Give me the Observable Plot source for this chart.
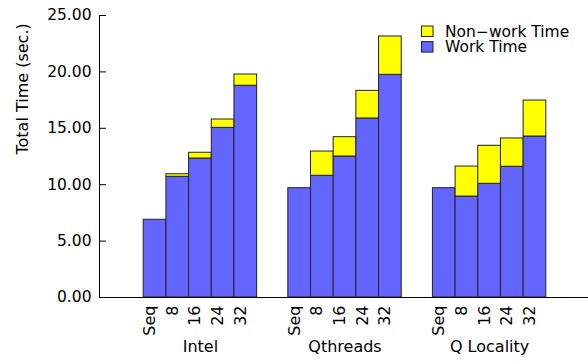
<!DOCTYPE html>
<html><head><meta charset="utf-8">
<script src="https://cdn.jsdelivr.net/npm/d3@7"></script>
<script src="https://cdn.jsdelivr.net/npm/@observablehq/plot@0.6"></script>
<style>
body{margin:0;background:#fff;}
#wrap{width:588px;height:362px;}
</style></head><body><div id="wrap"></div>
<script>
const groups = ["Intel", "Qthreads", "Q Locality"];
const threadLabels = ["Seq", "8", "16", "24", "32"];
const intelWork = [6.89, 10.70, 12.32, 15.04, 18.77];
const intelNonWork = [0, 0.23, 0.51, 0.74, 1.00];
const qthreadsWork = [9.69, 10.79, 12.50, 15.87, 19.74];
const qthreadsNonWork = [0, 2.15, 1.71, 2.45, 3.40];
const qlocalityWork = [9.69, 8.95, 10.08, 11.59, 14.27];
const qlocalityNonWork = [0, 2.66, 3.37, 2.51, 3.19];
const seriesNames = ["Non\u2212work Time", "Work Time"];
const seriesColors = ["#ffff00", "#6464ff"];
const yTicks = [0, 5, 10, 15, 20, 25];
const yLabel = "Total Time (sec.)";

const workByGroup = [intelWork, qthreadsWork, qlocalityWork];
const nonWorkByGroup = [intelNonWork, qthreadsNonWork, qlocalityNonWork];
const groupPitch = 6.375;
const xMin = -1.95, xMax = 2 * groupPitch + 5 + 1.86;
const W = 588, mL = 99, mR = 0;
const tickLen = 7 * (xMax - xMin) / (W - mL - mR);

const rects = [], bars = [], groupRows = [];
groups.forEach((g, gi) => {
  groupRows.push({group: g, center: gi * groupPitch + 2.5});
  threadLabels.forEach((t, ti) => {
    const pos = gi * groupPitch + ti;
    const w = workByGroup[gi][ti], n = nonWorkByGroup[gi][ti];
    bars.push({thread: t, pos});
    rects.push({series: seriesNames[1], pos, y1: 0, y2: w});
    if (n > 0) rects.push({series: seriesNames[0], pos, y1: w, y2: w + n});
  });
});

const chart = Plot.plot({
  width: W, height: 362,
  marginLeft: mL, marginRight: mR, marginTop: 15, marginBottom: 65,
  style: {fontFamily: "DejaVu Sans, sans-serif", fontSize: "16px", background: "white", color: "black"},
  x: {domain: [xMin, xMax], axis: null},
  y: {domain: [0, 25], axis: null},
  color: {domain: seriesNames, range: seriesColors},
  marks: [
    Plot.rect(rects, {x1: "pos", x2: d => d.pos + 1, y1: "y1", y2: "y2", fill: "series", stroke: "#222", strokeWidth: 1}),
    Plot.ruleY([0], {stroke: "black"}),
    Plot.ruleX([xMin], {stroke: "black"}),
    Plot.ruleY(yTicks, {x1: xMin, x2: xMin + tickLen, stroke: "black"}),
    Plot.axisY(yTicks, {anchor: "left", tickSize: 0, tickPadding: 8, tickFormat: d3.format(".2f"), label: null, fontSize: 15.5}),
    Plot.text([yLabel], {frameAnchor: "left", text: d => d, rotate: -90, dx: -77, dy: -2, fontSize: 16}),
    Plot.text(bars, {x: d => d.pos + 0.5, text: "thread", frameAnchor: "bottom", dy: 8, rotate: -90, textAnchor: "end", fontSize: 16}),
    Plot.text(groupRows, {x: "center", text: "group", frameAnchor: "bottom", dy: 54, fontSize: 16})
  ]
});
document.getElementById("wrap").appendChild(chart);

// legend inside the plot area
const svg = d3.select(chart);
const leg = svg.append("g").attr("font-family", "DejaVu Sans, sans-serif").attr("font-size", 15.5).attr("text-anchor", "start");
seriesNames.forEach((name, i) => {
  const y0 = 26 + i * 15.6;
  leg.append("rect").attr("x", 421.5).attr("y", y0).attr("width", 11.5).attr("height", 10.5)
    .attr("fill", seriesColors[i]).attr("stroke", "#222");
  leg.append("text").attr("x", 445).attr("y", y0 + 10.6).attr("fill", "black").attr("text-anchor", "start").text(name);
});
</script></body></html>
